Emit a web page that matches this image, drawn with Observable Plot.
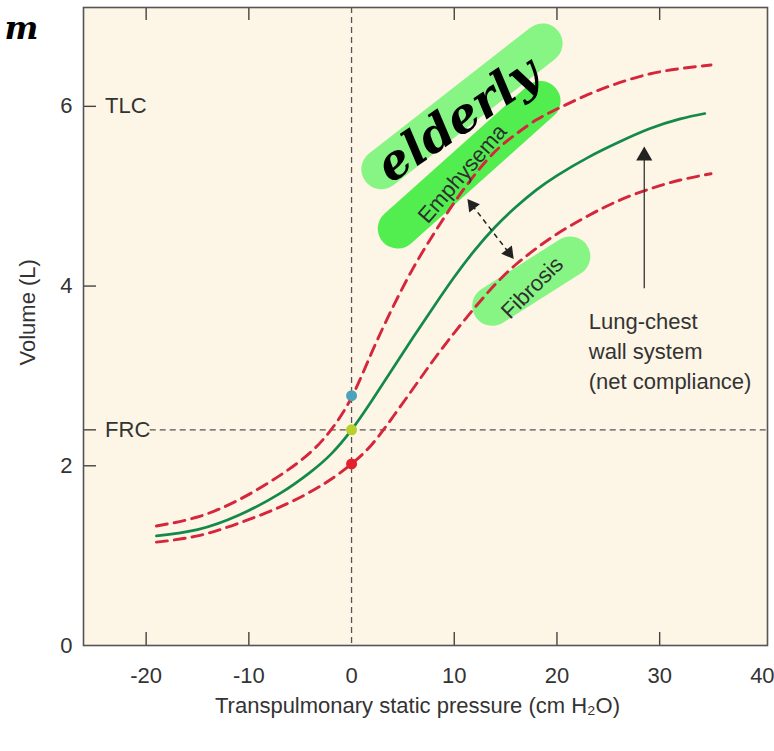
<!DOCTYPE html>
<html>
<head>
<meta charset="utf-8">
<script src="https://cdn.jsdelivr.net/npm/d3@7"></script>
<script src="https://cdn.jsdelivr.net/npm/@observablehq/plot@0.6"></script>
<style>
  html, body { margin: 0; padding: 0; background: #fff; }
</style>
</head>
<body>
<div id="chart"></div>
<script>
// Axis ticks
const xTickLabels = [-20, -10, 0, 10, 20, 30, 40];
const xTickMarks = [-20, -10, 10, 20, 30];
const yTickLabels = [0, 2, 4, 6];
const frcVolume = 2.4;
const tlcVolume = 6;
const yTickMarks = [2, 4, 6, frcVolume];
const levelNames = ["TLC", "FRC"];
const levelVolumes = [tlcVolume, frcVolume];

// Pressure–volume curves (pressure in cm H2O, volume in L)
const normalPressure = [-19, -15, -11, -7, -4, -2, 0, 2, 4, 6, 8, 10, 12, 14, 16, 18, 20, 23, 26, 29, 32, 34.4];
const normalVolume   = [1.22, 1.29, 1.45, 1.69, 1.93, 2.13, 2.40, 2.73, 3.08, 3.43, 3.77, 4.10, 4.40, 4.66, 4.88, 5.07, 5.23, 5.43, 5.60, 5.75, 5.86, 5.92];

const emphysemaPressure = [-19, -15, -11, -7, -4, -2, 0, 2, 4, 6, 8, 10, 12, 14, 16, 18, 20, 23, 26, 29, 32, 35];
const emphysemaVolume   = [1.33, 1.43, 1.62, 1.89, 2.15, 2.40, 2.76, 3.27, 3.76, 4.20, 4.58, 4.93, 5.24, 5.50, 5.69, 5.85, 5.97, 6.13, 6.26, 6.36, 6.42, 6.46];

const fibrosisPressure = [-19, -15, -11, -7, -4, -2, 0, 2, 4, 6, 8, 10, 12, 14, 16, 18, 20, 23, 26, 29, 32, 35];
const fibrosisVolume   = [1.15, 1.22, 1.36, 1.54, 1.71, 1.85, 2.02, 2.24, 2.54, 2.86, 3.18, 3.48, 3.76, 4.02, 4.24, 4.42, 4.58, 4.78, 4.95, 5.08, 5.18, 5.25];

// Resting volumes at zero transpulmonary pressure
const restPressure = [0, 0, 0];
const restVolume = [2.78, 2.40, 2.02];
const restColors = ["#4ca2b9", "#b8cf2c", "#e3202b"];

// Text annotations
const curveLabels = ["Emphysema", "Fibrosis"];
const curveLabelX = [10.8, 17.6];
const curveLabelY = [5.25, 3.98];
const curveLabelAngle = [-49, -45];

const noteLines = "Lung-chest\nwall system\n(net compliance)";
const noteX = 23.1;
const noteY = 3.76;

// Arrow from the note up to the normal curve
const noteArrowX = 28.5;
const noteArrowFrom = 3.97;
const noteArrowTip = 5.55;

// Double arrow between emphysema and fibrosis
const shiftArrowX = [11.27, 15.8];
const shiftArrowY = [4.97, 4.30];

// Highlighter strokes and handwriting
const highlightNames = ["elderly", "elderly", "emphysema", "emphysema", "fibrosis", "fibrosis"];
const highlightX = [2.9, 18.6, 4.5, 18.4, 13.7, 21.3];
const highlightY = [5.30, 6.70, 4.64, 6.06, 3.78, 4.33];
const highlightColors = { elderly: "#72f472", emphysema: "#34ec34", fibrosis: "#72f472" };
const handNote = ["elderly"];
const handX = [10.4];
const handY = [5.85];

// Layout
const W = 774, H = 751;
const mL = 83, mR = 7, mT = 7, mB = 106;
const xDomain = [-26.1, 40.5];
const yDomain = [0, 7.1];
const kx = (W - mL - mR) / (xDomain[1] - xDomain[0]);
const ky = (H - mT - mB) / (yDomain[1] - yDomain[0]);
const tickLen = 13; // inward tick length, px

const zip = (xs, ys) => xs.map((x, i) => ({x, y: ys[i]}));
const normal = zip(normalPressure, normalVolume);
const emphysema = zip(emphysemaPressure, emphysemaVolume);
const fibrosis = zip(fibrosisPressure, fibrosisVolume);
const rest = restPressure.map((x, i) => ({x, y: restVolume[i], c: restColors[i]}));
const highlights = highlightX.map((x, i) => ({x, y: highlightY[i], k: highlightNames[i]}));
const labels = curveLabels.map((t, i) => ({t, x: curveLabelX[i], y: curveLabelY[i], a: curveLabelAngle[i]}));
const levels = levelNames.map((t, i) => ({t, y: levelVolumes[i]}));

// Arrowheads: set back from the tip along the shaft, rotated to the shaft's screen direction
const headBack = 8;
const sdx = (shiftArrowX[1] - shiftArrowX[0]) * kx;
const sdy = -(shiftArrowY[1] - shiftArrowY[0]) * ky;
const slen = Math.hypot(sdx, sdy);
const ux = sdx / slen, uy = sdy / slen;
const angleDown = Math.atan2(ux, -uy) * 180 / Math.PI;
const shiftHeads = [
  {x: shiftArrowX[0] + ux * headBack / kx, y: shiftArrowY[0] - uy * headBack / ky, r: angleDown + 180},
  {x: shiftArrowX[1] - ux * headBack / kx, y: shiftArrowY[1] + uy * headBack / ky, r: angleDown}
];
const noteHead = [{x: noteArrowX, y: noteArrowTip - 9 / ky}];

const tickStroke = {stroke: "#444", strokeWidth: 1.4};

const chart = Plot.plot({
  width: W,
  height: H,
  marginLeft: mL,
  marginRight: mR,
  marginTop: mT,
  marginBottom: mB,
  x: {domain: xDomain, label: null},
  y: {domain: yDomain, label: null},
  style: {fontFamily: "'Liberation Sans', Arial, sans-serif", fontSize: "22px", color: "#333", background: "#fff", overflow: "visible"},
  marks: [
    Plot.frame({fill: "#fdf5e6", stroke: "none"}),

    // highlighter
    Plot.line(highlights, {x: "x", y: "y", z: "k", stroke: d => highlightColors[d.k], strokeWidth: 40, strokeLinecap: "round", strokeOpacity: 0.85}),

    // reference lines
    Plot.ruleX([0], {stroke: "#555", strokeWidth: 1.3, strokeDasharray: "6,4"}),
    Plot.ruleY([frcVolume], {x1: -19.6, x2: xDomain[1], stroke: "#555", strokeWidth: 1.3, strokeDasharray: "6,4"}),

    // curves
    Plot.line(emphysema, {x: "x", y: "y", curve: "natural", stroke: "#d5263b", strokeWidth: 2.9, strokeDasharray: "11,7"}),
    Plot.line(fibrosis, {x: "x", y: "y", curve: "natural", stroke: "#d5263b", strokeWidth: 2.9, strokeDasharray: "11,7"}),
    Plot.line(normal, {x: "x", y: "y", curve: "natural", stroke: "#13894a", strokeWidth: 2.7}),

    // resting points
    Plot.dot(rest, {x: "x", y: "y", r: 5.5, fill: "c", stroke: null}),

    // double arrow
    Plot.link([0], {x1: shiftHeads[0].x, y1: shiftHeads[0].y, x2: shiftHeads[1].x, y2: shiftHeads[1].y, stroke: "#222", strokeWidth: 1.5, strokeDasharray: "5,4"}),
    Plot.dot(shiftHeads, {x: "x", y: "y", rotate: "r", symbol: "triangle", r: 5, fill: "#222", stroke: null}),

    // note arrow
    Plot.ruleX([noteArrowX], {y1: noteArrowFrom, y2: noteArrowTip - 12 / ky, stroke: "#333", strokeWidth: 1.3}),
    Plot.dot(noteHead, {x: "x", y: "y", symbol: "triangle", r: 6, fill: "#222", stroke: null}),

    // labels
    Plot.text(labels, {x: "x", y: "y", text: "t", rotate: "a", fontSize: 22, fill: "#2f2f2f"}),
    Plot.text([noteLines], {x: noteX, y: noteY, text: d => d, textAnchor: "start", lineAnchor: "top", lineHeight: 1.36, fontSize: 22, fill: "#333"}),
    Plot.text(levels, {x: -24, y: "y", text: "t", textAnchor: "start", fontSize: 22, fill: "#333"}),

    // handwriting
    Plot.text(handNote, {x: handX[0], y: handY[0], text: d => d, rotate: -34, fontSize: 48, fontWeight: "bold", fontStyle: "italic", fontFamily: "'DejaVu Serif', serif", fill: "#000", letterSpacing: 2}),
    Plot.text(["m"], {frameAnchor: "top-left", dx: -79, dy: 9, text: d => d, fontSize: 32, fontWeight: "bold", fontStyle: "italic", fontFamily: "'DejaVu Serif', serif", fill: "#000"}),

    // inward tick marks
    Plot.ruleX(xTickMarks, {y1: yDomain[0], y2: yDomain[0] + tickLen / ky, ...tickStroke}),
    Plot.ruleX(xTickMarks, {y1: yDomain[1] - tickLen / ky, y2: yDomain[1], ...tickStroke}),
    Plot.ruleY(yTickMarks, {x1: xDomain[0], x2: xDomain[0] + tickLen / kx, ...tickStroke}),

    // tick labels
    Plot.axisX(xTickLabels, {anchor: "bottom", tickSize: 0, tickPadding: 22, tickFormat: d => String(d), label: null, fontSize: 22}),
    Plot.axisY(yTickLabels, {anchor: "left", tickSize: 0, tickPadding: 11, tickFormat: d => String(d), label: null, fontSize: 22}),

    // axis titles
    Plot.text(["Transpulmonary static pressure (cm H₂O)"], {frameAnchor: "bottom", dx: -8, dy: 67, text: d => d, fontSize: 22, fill: "#333"}),
    Plot.text(["Volume (L)"], {frameAnchor: "left", dx: -56, dy: 39, rotate: -90, text: d => d, fontSize: 22, fill: "#333"}),

    Plot.frame({stroke: "#555", strokeWidth: 1.6})
  ]
});

document.getElementById("chart").appendChild(chart);
</script>
</body>
</html>
